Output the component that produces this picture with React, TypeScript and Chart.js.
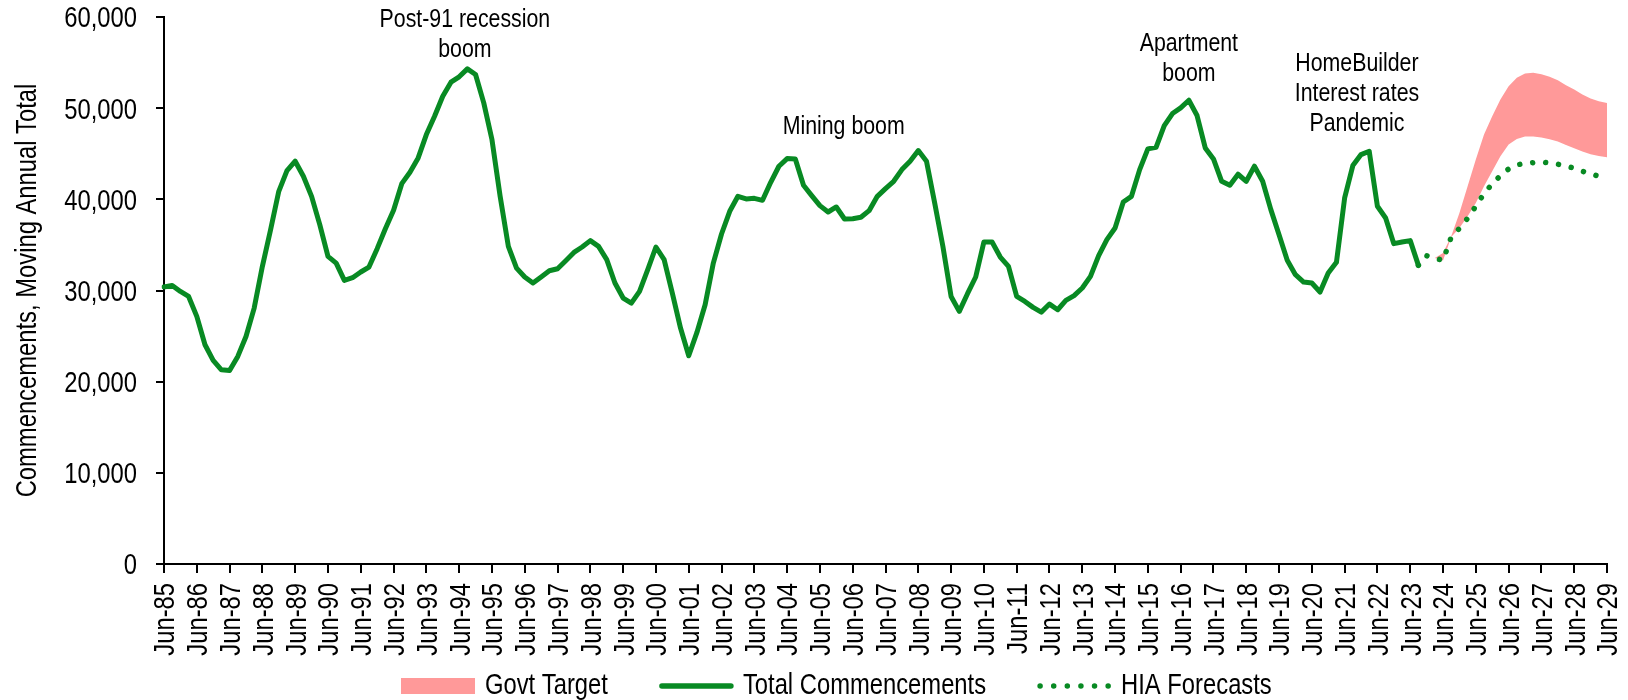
import React, { useEffect, useRef } from 'react';
import { Chart, registerables } from 'chart.js';

Chart.register(...registerables);

// ---------- DATA ----------
const QUARTER_MONTHS = ['Mar', 'Jun', 'Sep', 'Dec'];
const FIRST_LABEL = 'Jun-85';
const LAST_LABEL = 'Jun-29';
const YEARS = [1985, 2029];

// Total Commencements, quarterly from Jun-85 to Sep-23
const totalCommencements = [
  30380, 30560, 29900, 29350, 27160, 24050, 22330, 21300, 21230, 22770,
  24960, 28070, 32650, 36670, 40880, 43150, 44180, 42530, 40330, 37220,
  33750, 33010, 31110, 31400, 32030, 32570, 34590, 36780, 38800, 41720,
  42970, 44540, 47100, 49120, 51310, 52850, 53440, 54310, 53690, 50580,
  46560, 40330, 34840, 32460, 31480, 30820, 31480, 32170, 32390, 33270,
  34180, 34770, 35470, 34840, 33380, 30820, 29170, 28620, 29900, 32280,
  34770, 33380, 29720, 25880, 22840, 25400, 28440, 33010, 36200, 38690,
  40330, 40040, 40110, 39890, 41870, 43630, 44470, 44430, 41540, 40410,
  39310, 38610, 39160, 37840, 37880, 38030, 38760, 40330, 41180, 41980,
  43260, 44180, 45350, 44180, 39600, 34840, 29350, 27710, 29650, 31480,
  35320, 35320, 33670, 32650, 29350, 28800, 28150, 27630, 28510, 27890,
  28910, 29430, 30270, 31550, 33820, 35580, 36860, 39710, 40330, 43260,
  45530, 45710, 48090, 49410, 50030, 50870, 49190, 45640, 44430, 41980,
  41540, 42750, 41980, 43630, 41980, 38870, 36120, 33310, 31730, 30930,
  30820, 29830, 31920, 33090, 40150, 43700, 44910, 45270, 39240, 37950,
  35140, 35320, 35470, 32760,
];

// HIA Forecasts, quarterly from Sep-23 to Jun-29
const FORECAST_START = 'Sep-23';
const hiaForecasts = [
  32760, 33815, 33560, 33300, 35870, 36820, 37920, 39240, 40630, 41690,
  42600, 43330, 43770, 43960, 44030, 44070, 43990, 43850, 43660, 43410,
  43080, 42820, 42530, 42310,
];

// Govt Target band, quarterly from Mar-24 to Jun-29
const TARGET_START = 'Mar-24';
const govtTargetHigh = [
  33560, 34110, 35940, 38500, 41430, 44360, 47100, 49120, 50950, 52410,
  53330, 53800, 53880, 53730, 53440, 53070, 52520, 52050, 51500, 51060,
  50760, 50580,
];
const govtTargetLow = [
  33560, 33300, 35870, 36860, 38140, 39600, 41430, 43080, 44730, 46010,
  46630, 46880, 46880, 46770, 46590, 46340, 45970, 45610, 45240, 44940,
  44760, 44620,
];

const Y_MIN = 0;
const Y_MAX = 60000;
const Y_STEP = 10000;
const Y_TITLE = 'Commencements, Moving Annual Total';

// annotation texts anchored in data space (category label + shift, value of first baseline)
const annotations = [
  { lines: ['Post-91 recession', 'boom'], at: 'Jun-94', shift: 0.7, value: 58880 },
  { lines: ['Mining boom'], at: 'Jun-05', shift: 2.9, value: 47200 },
  { lines: ['Apartment', 'boom'], at: 'Jun-16', shift: 1.0, value: 56250 },
  { lines: ['HomeBuilder', 'Interest rates', 'Pandemic'], at: 'Jun-21', shift: 1.5, value: 54090 },
];

const legendItems = [
  { text: 'Govt Target', kind: 'box' },
  { text: 'Total Commencements', kind: 'line' },
  { text: 'HIA Forecasts', kind: 'dots' },
];

// ---------- BUILD ----------
const allQuarters: string[] = [];
for (let y = YEARS[0]; y <= YEARS[1]; y++) {
  for (const m of QUARTER_MONTHS) {
    allQuarters.push(`${m}-${String(y % 100).padStart(2, '0')}`);
  }
}
const labels = allQuarters.slice(allQuarters.indexOf(FIRST_LABEL), allQuarters.indexOf(LAST_LABEL) + 1);
const N = labels.length;

function place(values: number[], startLabel: string): (number | null)[] {
  const start = labels.indexOf(startLabel);
  const out: (number | null)[] = new Array(N).fill(null);
  values.forEach((v, i) => { out[start + i] = v; });
  return out;
}

const GREEN = '#088A23';
const PINK = '#FF9999';
const FONT = '"Liberation Sans", Arial, sans-serif';
const NARROW = 0.82; // Arial Narrow look
const TICK_SIZE = 29;
const NOTE_SIZE = 26;

function drawNarrow(
  ctx: CanvasRenderingContext2D,
  text: string,
  x: number,
  y: number,
  size: number,
  align: CanvasTextAlign,
  angle = 0,
) {
  ctx.save();
  ctx.translate(x, y);
  if (angle) ctx.rotate(angle);
  ctx.scale(NARROW, 1);
  ctx.font = `${size}px ${FONT}`;
  ctx.textAlign = align;
  ctx.textBaseline = 'alphabetic';
  ctx.fillStyle = '#000';
  ctx.fillText(text, 0, 0);
  ctx.restore();
}

const textPlugin = {
  id: 'narrowTexts',
  afterDraw(chart: any) {
    const { ctx, scales, chartArea } = chart;
    const capHalf = (0.716 * TICK_SIZE) / 2;
    // y tick labels
    const ys = scales.y;
    ys.ticks.forEach((t: any) => {
      const py = ys.getPixelForValue(t.value);
      drawNarrow(ctx, Number(t.value).toLocaleString('en-US'), chartArea.left - 27, py + capHalf, TICK_SIZE, 'right');
    });
    // x tick labels (rotated)
    const xs = scales.x;
    xs.ticks.forEach((_t: any, i: number) => {
      if (i % 4 !== 0) return;
      const px = xs.getPixelForTick(i);
      drawNarrow(ctx, labels[i], px + capHalf, chartArea.bottom + 19, TICK_SIZE, 'right', -Math.PI / 2);
    });
    // y axis title
    drawNarrow(ctx, Y_TITLE, 35.5, (chartArea.top + chartArea.bottom) / 2, TICK_SIZE, 'center', -Math.PI / 2);
    // annotations
    annotations.forEach((a) => {
      const x = xs.getPixelForValue(labels.indexOf(a.at) + a.shift);
      const y = ys.getPixelForValue(a.value);
      a.lines.forEach((line, i) => drawNarrow(ctx, line, x, y + i * 30, NOTE_SIZE, 'center'));
    });
    // legend
    const baseY = 693.5;
    const cy = 686;
    let x = 401;
    legendItems.forEach((item) => {
      const w = 74;
      ctx.save();
      if (item.kind === 'box') {
        ctx.fillStyle = PINK;
        ctx.fillRect(x, 678, w, 16);
      } else {
        ctx.strokeStyle = GREEN;
        ctx.lineWidth = 5.5;
        ctx.lineCap = 'round';
        ctx.setLineDash(item.kind === 'dots' ? [0.01, 13.6] : []);
        ctx.beginPath();
        ctx.moveTo(x + 3, cy);
        ctx.lineTo(x + w - 2, cy);
        ctx.stroke();
      }
      ctx.restore();
      const tx = x + w + 10;
      drawNarrow(ctx, item.text, tx, baseY, TICK_SIZE, 'left');
      ctx.save();
      ctx.font = `${TICK_SIZE}px ${FONT}`;
      const tw = ctx.measureText(item.text).width * NARROW;
      ctx.restore();
      x = tx + tw + 51;
    });
  },
};

export default function App() {
  const canvasRef = useRef<HTMLCanvasElement | null>(null);

  useEffect(() => {
    if (!canvasRef.current) return;
    const chart = new Chart(canvasRef.current, {
      type: 'line',
      data: {
        labels,
        datasets: [
          {
            label: 'Total Commencements',
            data: place(totalCommencements, FIRST_LABEL),
            borderColor: GREEN,
            backgroundColor: GREEN,
            borderWidth: 5,
            borderJoinStyle: 'round',
            borderCapStyle: 'round',
            pointRadius: 0,
            fill: false,
          },
          {
            label: 'HIA Forecasts',
            data: place(hiaForecasts, FORECAST_START),
            borderColor: GREEN,
            backgroundColor: GREEN,
            borderWidth: 5.5,
            borderDash: [0.01, 13],
            borderCapStyle: 'round',
            pointRadius: 0,
            fill: false,
          },
          {
            label: 'Govt Target',
            data: place(govtTargetHigh, TARGET_START),
            borderColor: 'rgba(0,0,0,0)',
            backgroundColor: PINK,
            borderWidth: 0,
            pointRadius: 0,
            fill: '+1',
          },
          {
            label: 'Govt Target low',
            data: place(govtTargetLow, TARGET_START),
            borderColor: 'rgba(0,0,0,0)',
            backgroundColor: PINK,
            borderWidth: 0,
            pointRadius: 0,
            fill: false,
          },
        ],
      } as any,
      options: {
        responsive: false,
        animation: false,
        devicePixelRatio: 1,
        layout: { padding: { left: 0, right: 21, top: 17, bottom: 36 } },
        plugins: {
          legend: { display: false },
          tooltip: { enabled: false },
        },
        scales: {
          x: {
            type: 'category',
            offset: false,
            afterFit: (scale: any) => { scale.height = 100; },
            grid: {
              drawOnChartArea: false,
              drawTicks: true,
              tickLength: 9,
              lineWidth: 2,
              color: (c: any) => (c.index % 4 === 0 ? '#000' : 'rgba(0,0,0,0)'),
            },
            border: { display: true, color: '#000', width: 2 },
            ticks: { display: false, autoSkip: false, maxRotation: 0 },
          },
          y: {
            min: Y_MIN,
            max: Y_MAX,
            afterFit: (scale: any) => { scale.width = 164; },
            grid: {
              drawOnChartArea: false,
              drawTicks: true,
              tickLength: 8,
              lineWidth: 2,
              color: '#000',
            },
            border: { display: true, color: '#000', width: 2 },
            ticks: { display: false, stepSize: Y_STEP },
          },
        },
      } as any,
      plugins: [textPlugin],
    });
    return () => chart.destroy();
  }, []);

  return (
    <div style={{ position: 'absolute', left: 0, top: 0, width: 1628, height: 700, background: '#fff' }}>
      <canvas ref={canvasRef} width={1628} height={700} style={{ width: 1628, height: 700, display: 'block' }} />
    </div>
  );
}
